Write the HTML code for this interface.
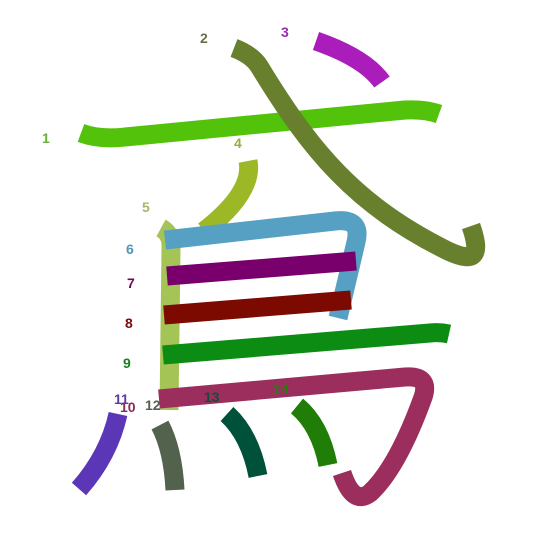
<!DOCTYPE html>
<html><head><meta charset="utf-8"><style>
body{margin:0;background:#fff}
svg{display:block}
text{font-family:"Liberation Sans",sans-serif;font-weight:bold;font-size:14px}
path{fill:none;stroke-width:19;stroke-linecap:butt;stroke-linejoin:round}
</style></head><body>
<svg width="545" height="545" viewBox="0 0 545 545">
<path d="M81,133 Q100,140 125,137 L405,110 Q425,109 439,114" stroke="#52c20a"/>
<path d="M234,48 Q252,55 259,66 C310,150 355,205 448,251 C478,265 480,252 471,226" stroke="#68802e"/>
<path d="M316,41 Q365,58 382,82" stroke="#aa1dba"/>
<path d="M248,161 Q254,192 204,231" stroke="#9db827"/>
<path d="M161,228 Q172,234 171,248 L169,410" stroke="#a5c456"/>
<path d="M165,240 L335,221 Q362,218 356,242 L338,318" stroke="#56a0c3"/>
<path d="M167,276 L356,261" stroke="#79006c"/>
<path d="M164,315 L351,300" stroke="#7d0a01"/>
<path d="M163,355 L430,333 Q440,332 449,334" stroke="#0c8c12"/>
<path d="M159,399 L405,377 Q432,375 422,400 Q397,468 370,493 Q353,506 342,473" stroke="#9b2e5d"/>
<path d="M118,414 Q109,455 79,489" stroke="#5b37b8"/>
<path d="M160,425 Q173,450 175,490" stroke="#53624d"/>
<path d="M227,414 Q250,435 258,476" stroke="#00513a"/>
<path d="M297,406 Q320,425 328,465" stroke="#207d08"/>
<text x="42" y="143" fill="#6aae3c">1</text>
<text x="200" y="43" fill="#6a7040">2</text>
<text x="281" y="37" fill="#9a2aae">3</text>
<text x="234" y="148" fill="#9aae3c">4</text>
<text x="142" y="212" fill="#a4b866">5</text>
<text x="126" y="254" fill="#5096b8">6</text>
<text x="127" y="288" fill="#6a0a5e">7</text>
<text x="125" y="328" fill="#7a0a0a">8</text>
<text x="123" y="368" fill="#1a8020">9</text>
<text x="114" y="404" fill="#5a3aa8">11</text>
<text x="120" y="412" fill="#8a2a58">10</text>
<text x="145" y="410" fill="#55604e">12</text>
<text x="204" y="402" fill="#104e38">13</text>
<text x="273" y="394" fill="#2a7a10">14</text>
</svg>
</body></html>
